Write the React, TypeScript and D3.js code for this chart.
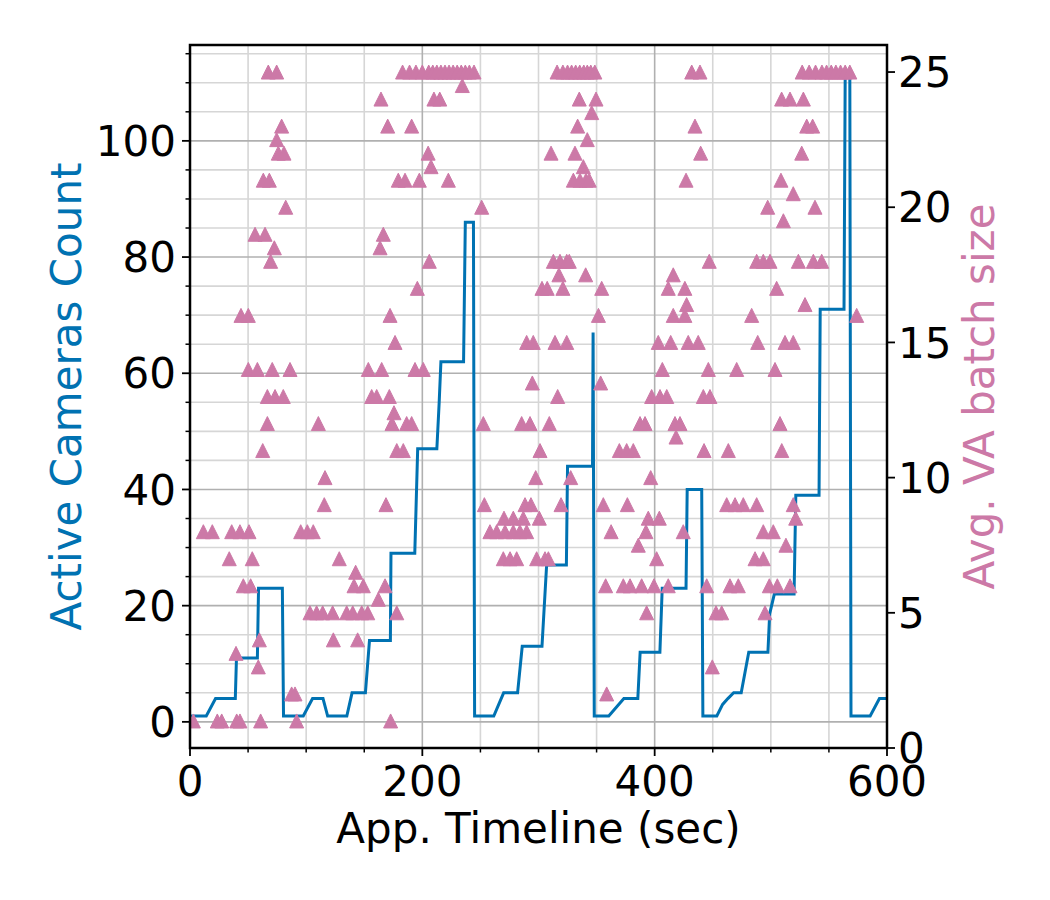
import React from "react";
import * as d3 from "d3";

// ---- Data ----
const lineTimes = [0,14,22,39,40,58,59,79.5,80.5,97.5,105.5,114.5,118.5,135,139.5,151,154.5,172.5,173,193.5,196,212.5,214.5,216,235.5,237,244,245,261.5,270,282,286,303,307,324,325,346.5,347,348,360.5,373.5,385.5,387.5,404.5,406.5,427,428,440.5,441.5,453.5,458.5,463,468,474.5,481,497.5,499,503,520,521.5,541.5,542.5,563,564,568,569,585.5,593.5,600];
const lineCounts = [1,1,4,4,11,11,23,23,1,1,4,4,1,1,5,5,14,14,29,29,47,47,55,62,62,86,86,1,1,5,5,13,13,27,27,44,44,67,1,1,4,4,12,12,23,23,40,40,1,1,3,4,5,5,12,12,18.6,22,22,39,39,71,71,111,111,1,1,4,4];

const batchTimes = [
  2.9,11.5,19.2,23.5,27.3,33.8,35.9,39.6,40.2,43,43,43.9,45.9,50.2,50.2,50.8,52.2,53.6,56,58,58.8,59.7,60.8,
  62.6,63.1,64.6,66.6,66.6,67.4,68.3,69.4,70.8,72.6,73.2,74.6,74.6,76,78.9,80.3,80.9,82.4,86.1,87.5,90.4,91.8,95.3,
  101,103.3,106.1,109,110.5,114.2,115.6,116.2,122.8,123.4,128.5,134.9,140.1,141.2,142.6,144.3,147.8,149.2,153,153.5,156.4,160.7,162.1,163.6,164.4,165,166.4,167.9,168.7,170.2,171.6,172.2,172.7,173.9,175.6,176.5,178,178,179.3,
  183.6,185.1,186.5,190.8,190.8,193.7,195.7,197.4,200.8,205,206,207.5,210,215,222.4,234.4,251.1,252.5,253.4,
  183,189,194.5,200,205.5,209,212.5,216,219.5,223,226.5,230,233.5,237,240.5,244.5,
  258.2,264,269.7,270.3,271.2,275.5,278.3,278.3,281.2,284,285.5,286.9,288.4,289.8,289.8,292.7,293.5,294.7,295.5,297.6,298.4,300.7,301.3,303,305.6,307.5,308.5,309.3,310.8,312.8,314.2,316.5,317.6,318.5,319.4,321,324.3,324.3,326.5,327.7,330,331.4,333.7,335.1,335.7,338.6,340.6,340.9,342,343.7,345.8,349.5,351.6,353.5,354.4,355.8,357.8,358.7,
  316,321,325,328.5,332,335.5,339,342,345,348.5,
  362.5,369.6,373,375.9,376.5,378.8,381.6,385.9,387.4,388.8,391.7,392.5,393.1,394.5,396.6,397.4,399.4,401.7,403.1,404,404.6,406.6,410.4,411.7,411.7,413.8,416,416,417.5,418.4,421.8,424.6,426,426,427,427.5,428.9,
  431.9,434.7,437.5,439,439.6,441.9,442.5,444.8,446.2,447,447.6,449.6,452.8,457.7,462,463.4,464.8,469.2,470.6,472,476.3,483.5,486.4,487.8,487.8,488.7,493.5,493.5,493.5,495,497.3,498.7,499.3,502.1,503.6,505,505.6,507.9,508.7,509.3,509.4,510.8,512.2,513,516.5,516.5,519.3,519.3,519.3,521.4,523.7,526.6,528,529.4,530.9,536,536.6,538,543.8,573.9,
  527,533,538.5,544,548,552,556,560,564,568
];
const batchSizes = [
  1,8,8,1,1,7,8,3.5,1,1,8,16,6,14,16,8,6,7,19,14,3,4,1,
  11,21,19,12,13,25,21,18,14,18.5,13,25,22.5,22,23,13,22,20,14,2,2,1,8,
  8,5,8,5,12,5,9,10,5,4,7,5,5,6,6.5,4,5,6,5,14,13,13,5.5,18.5,24,14,19,6,9,23,13,16,1,12,12.4,15,5,11,21,
  11,21,12,12,23,14,17,21,14,22,18,21.5,24,24,21,24.5,20,12,9,
  25,25,25,25,25,25,25,25,25,25,25,25,25,25,25,25,
  8,8,7,8.5,8,7,8.5,8,7,8,12,8.5,9,8,15,12,9,13.5,15,10,7,8.5,11,17,7,17,7,12,22,18,15,13,17.5,18,9,17,15,18,18,10,21,22,23,24,21,21.5,17.5,21,22.5,21,23.5,24,16,13.5,17,9,6,2,
  25,25,25,25,25,25,25,25,25,25,
  8,11,6,11,9,6,11,7.5,12,6,12,8,5,8.5,10,13,6,7,15,8.5,13,14,13,6,17,15,16,17.5,12,11.5,12,8,16,17,21,16.4,15,
  25,23,15,25,22,13,11,6,14,18,13,3,5,5,9,11,6,9,14,6,9,16,7,9,18,15,8,7,18,5,20,6,18,8,14,17,6,12,21,24,11,19.5,15,7.5,24,6,15,20.5,9,8.5,18,22,24,16.4,23,23,18,20,18,16,
  25,25,25,25,25,25,25,25,25,25
];

const leftTicks = [0, 20, 40, 60, 80, 100];
const rightTicks = [0, 5, 10, 15, 20, 25];
const xTicks = [0, 200, 400, 600];

const BLUE = "#0072B2";
const PINK = "#CC79A7";
const FONT = "DejaVu Sans, sans-serif";

export default function App() {
  const L = 190, R = 887, T = 45, B = 748;
  const x = d3.scaleLinear().domain([0, 600]).range([L, R]);
  const yL = d3.scaleLinear().domain([-4.5, 116.5]).range([B, T]);
  const yR = d3.scaleLinear().domain([0, 26]).range([B, T]);

  const xMinor = d3.range(0, 601, 50);
  const yMinor = d3.range(-0, 116, 5);

  const lineGen = d3.line<number>().x((_, i) => x(lineTimes[i])).y((v) => yL(v));
  const pathD = lineGen(lineCounts) || "";

  const tri = (cx: number, cy: number, s: number) =>
    `M${cx},${cy - s / 2}L${cx - s / 2},${cy + s / 2}L${cx + s / 2},${cy + s / 2}Z`;

  const fs = 42;

  return (
    <svg width={1050} height={900} style={{ position: "absolute", left: 0, top: 0, background: "#fff" }} fontFamily={FONT}>
      <rect x={0} y={0} width={1050} height={900} fill="#fff" />
      <defs>
        <clipPath id="plotclip">
          <rect x={L} y={T} width={R - L} height={B - T} />
        </clipPath>
      </defs>
      {/* grid minor */}
      <g>
        {xMinor.filter((v) => v % 200 !== 0).map((v) => (
          <line key={"xm" + v} x1={x(v)} x2={x(v)} y1={T} y2={B} stroke="#d6d6d6" strokeWidth={1.6} />
        ))}
        {yMinor.filter((v) => v % 20 !== 0).map((v) => (
          <line key={"ym" + v} x1={L} x2={R} y1={yL(v)} y2={yL(v)} stroke="#d6d6d6" strokeWidth={1.6} />
        ))}
        {xTicks.map((v) => (
          <line key={"xM" + v} x1={x(v)} x2={x(v)} y1={T} y2={B} stroke="#b0b0b0" strokeWidth={1.6} />
        ))}
        {leftTicks.map((v) => (
          <line key={"yM" + v} x1={L} x2={R} y1={yL(v)} y2={yL(v)} stroke="#b0b0b0" strokeWidth={1.6} />
        ))}
      </g>
      <g clipPath="url(#plotclip)">
        <path d={pathD} fill="none" stroke={BLUE} strokeWidth={3} strokeLinejoin="miter" />
        {batchTimes.map((t, i) => (
          <path key={"b" + i} d={tri(x(t), yR(batchSizes[i]), 14)} fill={PINK} stroke={PINK} strokeWidth={1} strokeLinejoin="round" />
        ))}
      </g>
      {/* spines */}
      <rect x={L} y={T} width={R - L} height={B - T} fill="none" stroke="#000" strokeWidth={2.5} />
      {/* left ticks */}
      {yMinor.filter((v) => v % 20 !== 0).map((v) => (
        <line key={"lmt" + v} x1={L - 4.5} x2={L} y1={yL(v)} y2={yL(v)} stroke="#000" strokeWidth={1.5} />
      ))}
      {leftTicks.map((v) => (
        <g key={"lt" + v}>
          <line x1={L - 8} x2={L} y1={yL(v)} y2={yL(v)} stroke="#000" strokeWidth={1.8} />
          <text x={L - 14} y={yL(v)} dy="0.36em" textAnchor="end" fontSize={fs} fill="#000">{v}</text>
        </g>
      ))}
      {/* right ticks */}
      {rightTicks.map((v) => (
        <g key={"rt" + v}>
          <line x1={R} x2={R + 8} y1={yR(v)} y2={yR(v)} stroke="#000" strokeWidth={1.8} />
          <text x={R + 11} y={yR(v)} dy="0.36em" textAnchor="start" fontSize={fs} fill="#000">{v}</text>
        </g>
      ))}
      {/* bottom ticks */}
      {xMinor.filter((v) => v % 200 !== 0).map((v) => (
        <line key={"bmt" + v} x1={x(v)} x2={x(v)} y1={B} y2={B + 4.5} stroke="#000" strokeWidth={1.5} />
      ))}
      {xTicks.map((v) => (
        <g key={"bt" + v}>
          <line x1={x(v)} x2={x(v)} y1={B} y2={B + 8} stroke="#000" strokeWidth={1.8} />
          <text x={x(v)} y={796} textAnchor="middle" fontSize={fs} fill="#000">{v}</text>
        </g>
      ))}
      <text x={(L + R) / 2} y={843} textAnchor="middle" fontSize={fs} fill="#000">App. Timeline (sec)</text>
      <text transform={`translate(81,${(T + B) / 2}) rotate(-90)`} textAnchor="middle" fontSize={fs} fill={BLUE}>Active Cameras Count</text>
      <text transform={`translate(994,${(T + B) / 2}) rotate(-90)`} textAnchor="middle" fontSize={fs} fill={PINK}>Avg. VA batch size</text>
    </svg>
  );
}
